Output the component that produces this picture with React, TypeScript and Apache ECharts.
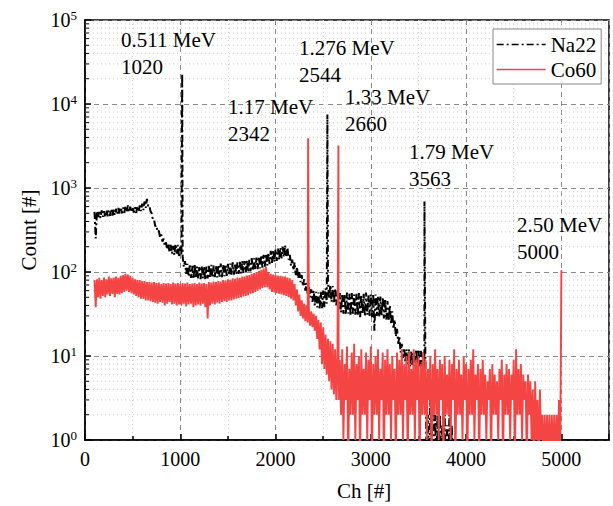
import React, { useEffect, useRef } from "react";
import * as echarts from "echarts";

// ---- data ----
// channel bins of 25 channels from channel 100; each bin holds the top and
// the bottom of the noisy count band
const CH_START = 100;
const CH_STEP = 25;

// Na22 (bins 100 .. 3875)
const na22Hi = [
  520, 530, 520, 540, 530, 545, 540, 560,
  550, 565, 580, 590, 585, 610, 620, 600,
  595, 590, 610, 620, 650, 690, 740, 620,
  500, 420, 360, 310, 280, 250, 225, 215,
  210, 205, 215, 210, 200, 150, 135, 125,
  120, 118, 125, 116, 114, 118, 117, 116,
  118, 122, 119, 120, 121, 126, 122, 124,
  125, 126, 130, 127, 130, 132, 136, 135,
  138, 140, 146, 145, 148, 152, 158, 160,
  165, 170, 178, 182, 186, 190, 195, 200,
  208, 195, 160, 140, 130, 115, 100, 92,
  82, 74, 68, 62, 60, 58, 57, 58,
  60, 64, 75, 70, 68, 64, 60, 56,
  55, 54, 57, 55, 56, 54, 55, 56,
  54, 55, 57, 53, 54, 55, 54, 52,
  51, 50, 48, 45, 40, 34, 27, 21,
  17, 14, 12.5, 12, 12, 11.5, 11, 12,
  12, 11.5, 11, 3, 2, 3, 2, 2,
  2, 2, 1.5, 2, 1.5, 2, 1.5, 1,
];
const na22Lo = [
  250, 450, 440, 455, 450, 460, 465, 470,
  475, 485, 495, 500, 505, 515, 520, 515,
  510, 505, 520, 530, 545, 580, 610, 530,
  420, 350, 300, 260, 230, 205, 185, 170,
  165, 160, 165, 150, 160, 115, 95, 88,
  85, 82, 84, 83, 82, 84, 80, 84,
  86, 85, 87, 86, 88, 87, 89, 90,
  91, 92, 93, 94, 95, 96, 97, 99,
  100, 102, 104, 106, 108, 110, 113, 116,
  120, 124, 128, 132, 136, 140, 145, 150,
  155, 140, 118, 105, 92, 84, 76, 68,
  60, 55, 50, 44, 40, 38, 36, 37,
  38, 42, 48, 44, 42, 40, 36, 33,
  32, 31, 32, 30, 32, 31, 30, 29,
  32, 30, 31, 30, 29, 20, 30, 29,
  30, 28, 27, 26, 24, 21, 17, 14,
  11, 9.5, 8.5, 8, 7.5, 7.5, 7.5, 8,
  7.5, 7.5, 7, 0.5, 0.5, 1, 0.5, 0.5,
  0.5, 0.5, 0.5, 0.5, 0.5, 0.5, 0.5, 0.5,
];
const na22PeakCh = [1020, 2544, 3563];
const na22PeakCounts = [23000, 7500, 690];

// Co60 (bins 100 .. 4975)
const co60Hi = [
  80, 82, 85, 80, 86, 82, 88, 84,
  86, 88, 85, 90, 92, 95, 93, 90,
  86, 82, 80, 80, 78, 78, 76, 76,
  75, 76, 74, 75, 72, 74, 73, 74,
  72, 75, 73, 74, 72, 74, 73, 75,
  72, 73, 74, 72, 75, 73, 74, 72,
  76, 75, 77, 76, 78, 77, 80, 79,
  82, 81, 84, 83, 86, 85, 88, 88,
  91, 92, 95, 97, 100, 103, 106, 110,
  115, 100, 95, 93, 92, 90, 90, 89,
  88, 86, 84, 80, 72, 62, 54, 46,
  42, 40, 36, 34, 32, 30, 27, 25,
  22, 18, 16, 15, 14, 12, 11, 9,
  12, 8, 13, 7, 11, 14, 8, 10,
  12, 7, 11, 9, 13, 8, 10, 12,
  7, 11, 9, 12, 8, 10, 7, 11,
  9, 12, 8, 10, 11, 7, 12, 9,
  10, 8, 11, 9, 7, 10, 8, 12,
  7, 9, 8, 10, 6, 9, 8, 12,
  7, 9, 6, 10, 8, 7, 9, 12,
  6, 8, 7, 9, 6, 5, 7, 8,
  6, 5, 7, 9, 6, 8, 7, 6,
  9, 12, 7, 8, 6, 5, 6, 5,
  4, 5, 3, 4, 2, 2, 2, 2,
  2, 2, 2, 3,
];
const co60Lo = [
  38, 50, 48, 52, 50, 54, 52, 55,
  50, 55, 54, 56, 58, 60, 58, 56,
  54, 52, 50, 48, 48, 46, 46, 45,
  44, 43, 42, 44, 43, 40, 42, 44,
  41, 42, 40, 41, 40, 42, 39, 41,
  42, 38, 40, 41, 40, 42, 38, 28,
  40, 42, 41, 43, 42, 44, 45, 44,
  46, 46, 47, 48, 49, 50, 51, 52,
  53, 55, 56, 58, 60, 62, 64, 66,
  66, 62, 58, 57, 56, 55, 54, 53,
  52, 50, 48, 46, 40, 34, 30, 28,
  26, 25, 23, 22, 20, 16, 12, 8,
  7, 6, 5, 4, 3.5, 3, 3, 2,
  1, 3, 0.5, 2, 2, 1, 3, 0.5,
  2, 2, 1, 3, 0.5, 2, 2, 1,
  3, 0.5, 2, 2, 1, 3, 0.5, 2,
  2, 1, 3, 0.5, 2, 2, 1, 3,
  0.5, 2, 2, 1, 3, 0.5, 2, 2,
  1, 3, 0.5, 2, 2, 1, 3, 0.5,
  2, 2, 1, 3, 0.5, 2, 2, 1,
  3, 0.5, 2, 2, 1, 3, 0.5, 2,
  2, 1, 3, 0.5, 2, 2, 1, 3,
  0.5, 2, 2, 1, 3, 0.5, 2, 1,
  0.5, 1, 0.5, 1, 0.5, 0.5, 0.5, 0.5,
  0.5, 0.5, 0.5, 0.5,
];
const co60PeakCh = [2342, 2660, 5000];
const co60PeakCounts = [3900, 3200, 105];

const seriesNames = ["Na22", "Co60"];
const xMin = 0;
const xMax = 5500;
const xInterval = 1000;
const yMin = 1;
const yMax = 100000;
const decades = [1, 10, 100, 1000, 10000];
const minorMultipliers = [2, 3, 4, 5, 6, 7, 8, 9];

const annotationTexts = [
  "0.511 MeV\n1020",
  "1.276 MeV\n2544",
  "1.17 MeV\n2342",
  "1.33 MeV\n2660",
  "1.79 MeV\n3563",
  "2.50 MeV\n5000",
];

// ---- layout (pixels) ----
const annotationPos = [
  [121, 26],
  [299, 34],
  [228, 93],
  [345, 83],
  [409, 138],
  [517, 211],
];

const FONT = '"Liberation Serif", "Times New Roman", serif';
const RED = "#f54444";

// every bin contributes its band top and band bottom; peaks are inserted at their channel
function buildSeries(hi: number[], lo: number[], peakCh: number[], peakVals: number[]) {
  const pts: number[][] = [];
  hi.forEach((h, i) => {
    const ch = CH_START + i * CH_STEP;
    pts.push([ch, h]);
    pts.push([ch + CH_STEP / 2, lo[i]]);
  });
  peakCh.forEach((ch, i) => pts.push([ch, peakVals[i]]));
  pts.sort((a, b) => a[0] - b[0]);
  return pts;
}

export default function App() {
  const ref = useRef<HTMLDivElement>(null);

  useEffect(() => {
    if (!ref.current) return;
    const chart = echarts.init(ref.current, null, { renderer: "svg" });

    const minorVals: number[][] = [];
    decades.forEach((d) => minorMultipliers.forEach((m) => minorVals.push([xMin, d * m])));

    const option: any = {
      animation: false,
      backgroundColor: "#fff",
      grid: {
        left: 85,
        top: 20,
        right: 4,
        bottom: 64,
        show: true,
        borderColor: "#000",
        borderWidth: 1.5,
        backgroundColor: "transparent",
      },
      legend: {
        orient: "vertical",
        left: 493,
        top: 29,
        data: seriesNames,
        itemWidth: 49,
        itemHeight: 14,
        itemGap: 4,
        padding: [5, 5, 4, 3],
        borderColor: "#888",
        borderWidth: 1,
        borderRadius: 0,
        backgroundColor: "#fff",
        itemStyle: { opacity: 0 },
        lineStyle: { width: 1.3 },
        textStyle: { fontFamily: FONT, fontSize: 21, color: "#000", lineHeight: 21 },
      },
      xAxis: {
        type: "value",
        min: xMin,
        max: xMax,
        interval: xInterval,
        name: "Ch [#]",
        nameLocation: "middle",
        nameGap: 40,
        nameTextStyle: { fontFamily: FONT, fontSize: 21, color: "#000", padding: [0, 0, 0, 34] },
        axisLine: { show: true, onZero: false, lineStyle: { color: "#000", width: 1.5 } },
        axisTick: { show: true, inside: true, length: 6, lineStyle: { color: "#000", width: 1.5 } },
        minorTick: { show: true, splitNumber: 2, length: 4, lineStyle: { color: "#000", width: 1.5 } },
        axisLabel: {
          fontFamily: FONT,
          fontSize: 20,
          color: "#000",
          margin: 9,
          showMaxLabel: false,
          formatter: (v: number) => String(v),
        },
        splitLine: { show: true, lineStyle: { color: "#8a8a8a", type: [5, 4], width: 1 } },
        minorSplitLine: { show: true, lineStyle: { color: "#cfcfcf", type: [1, 3], width: 1 } },
      },
      yAxis: {
        type: "log",
        logBase: 10,
        min: yMin,
        max: yMax,
        name: "Count [#]",
        nameLocation: "middle",
        nameGap: 46,
        nameTextStyle: { fontFamily: FONT, fontSize: 21, color: "#000" },
        axisLine: { show: true, onZero: false, lineStyle: { color: "#000", width: 1.5 } },
        axisTick: { show: true, inside: true, length: 6, lineStyle: { color: "#000", width: 1.5 } },
        minorTick: { show: false },
        axisLabel: {
          margin: 8,
          color: "#000",
          formatter: (v: number) => `{b|10}{s|${Math.round(Math.log10(v))}}`,
          rich: {
            b: { fontFamily: FONT, fontSize: 20, color: "#000" },
            s: { fontFamily: FONT, fontSize: 13, color: "#000", padding: [0, 0, 10, 0] },
          },
        },
        splitLine: { show: true, lineStyle: { color: "#8a8a8a", type: [5, 4], width: 1 } },
      },
      series: [
        {
          type: "custom",
          name: "minorLogGrid",
          silent: true,
          z: 1,
          data: minorVals,
          encode: { x: 0, y: 1 },
          renderItem: (_params: any, api: any) => {
            const v = api.value(1);
            const p0 = api.coord([xMin, v]);
            const p1 = api.coord([xMax, v]);
            return {
              type: "group",
              children: [
                {
                  type: "line",
                  shape: { x1: p0[0], y1: p0[1], x2: p1[0], y2: p1[1] },
                  style: { stroke: "#cfcfcf", lineWidth: 1, lineDash: [1, 3] },
                },
                {
                  type: "line",
                  shape: { x1: p0[0], y1: p0[1], x2: p0[0] + 4, y2: p0[1] },
                  style: { stroke: "#000", lineWidth: 1 },
                },
              ],
            };
          },
        },
        {
          type: "line",
          name: seriesNames[0],
          data: buildSeries(na22Hi, na22Lo, na22PeakCh, na22PeakCounts),
          showSymbol: false,
          symbol: "none",
          z: 3,
          lineStyle: { color: "#000", width: 2, type: [7, 3, 2, 3] },
          itemStyle: { color: "#000" },
        },
        {
          type: "line",
          name: seriesNames[1],
          data: buildSeries(co60Hi, co60Lo, co60PeakCh, co60PeakCounts),
          showSymbol: false,
          symbol: "none",
          z: 4,
          lineStyle: { color: RED, width: 1.9, type: "solid" },
          itemStyle: { color: RED },
        },
      ],
      graphic: annotationTexts.map((t, i) => ({
        type: "text",
        left: annotationPos[i][0],
        top: annotationPos[i][1],
        z: 10,
        silent: true,
        style: { text: t, fontFamily: FONT, fontSize: 21, lineHeight: 27, fill: "#000" },
      })),
    };

    chart.setOption(option);
    return () => chart.dispose();
  }, []);

  return (
    <div
      ref={ref}
      style={{ position: "fixed", left: 0, top: 0, width: 613, height: 506, background: "#fff" }}
    />
  );
}
